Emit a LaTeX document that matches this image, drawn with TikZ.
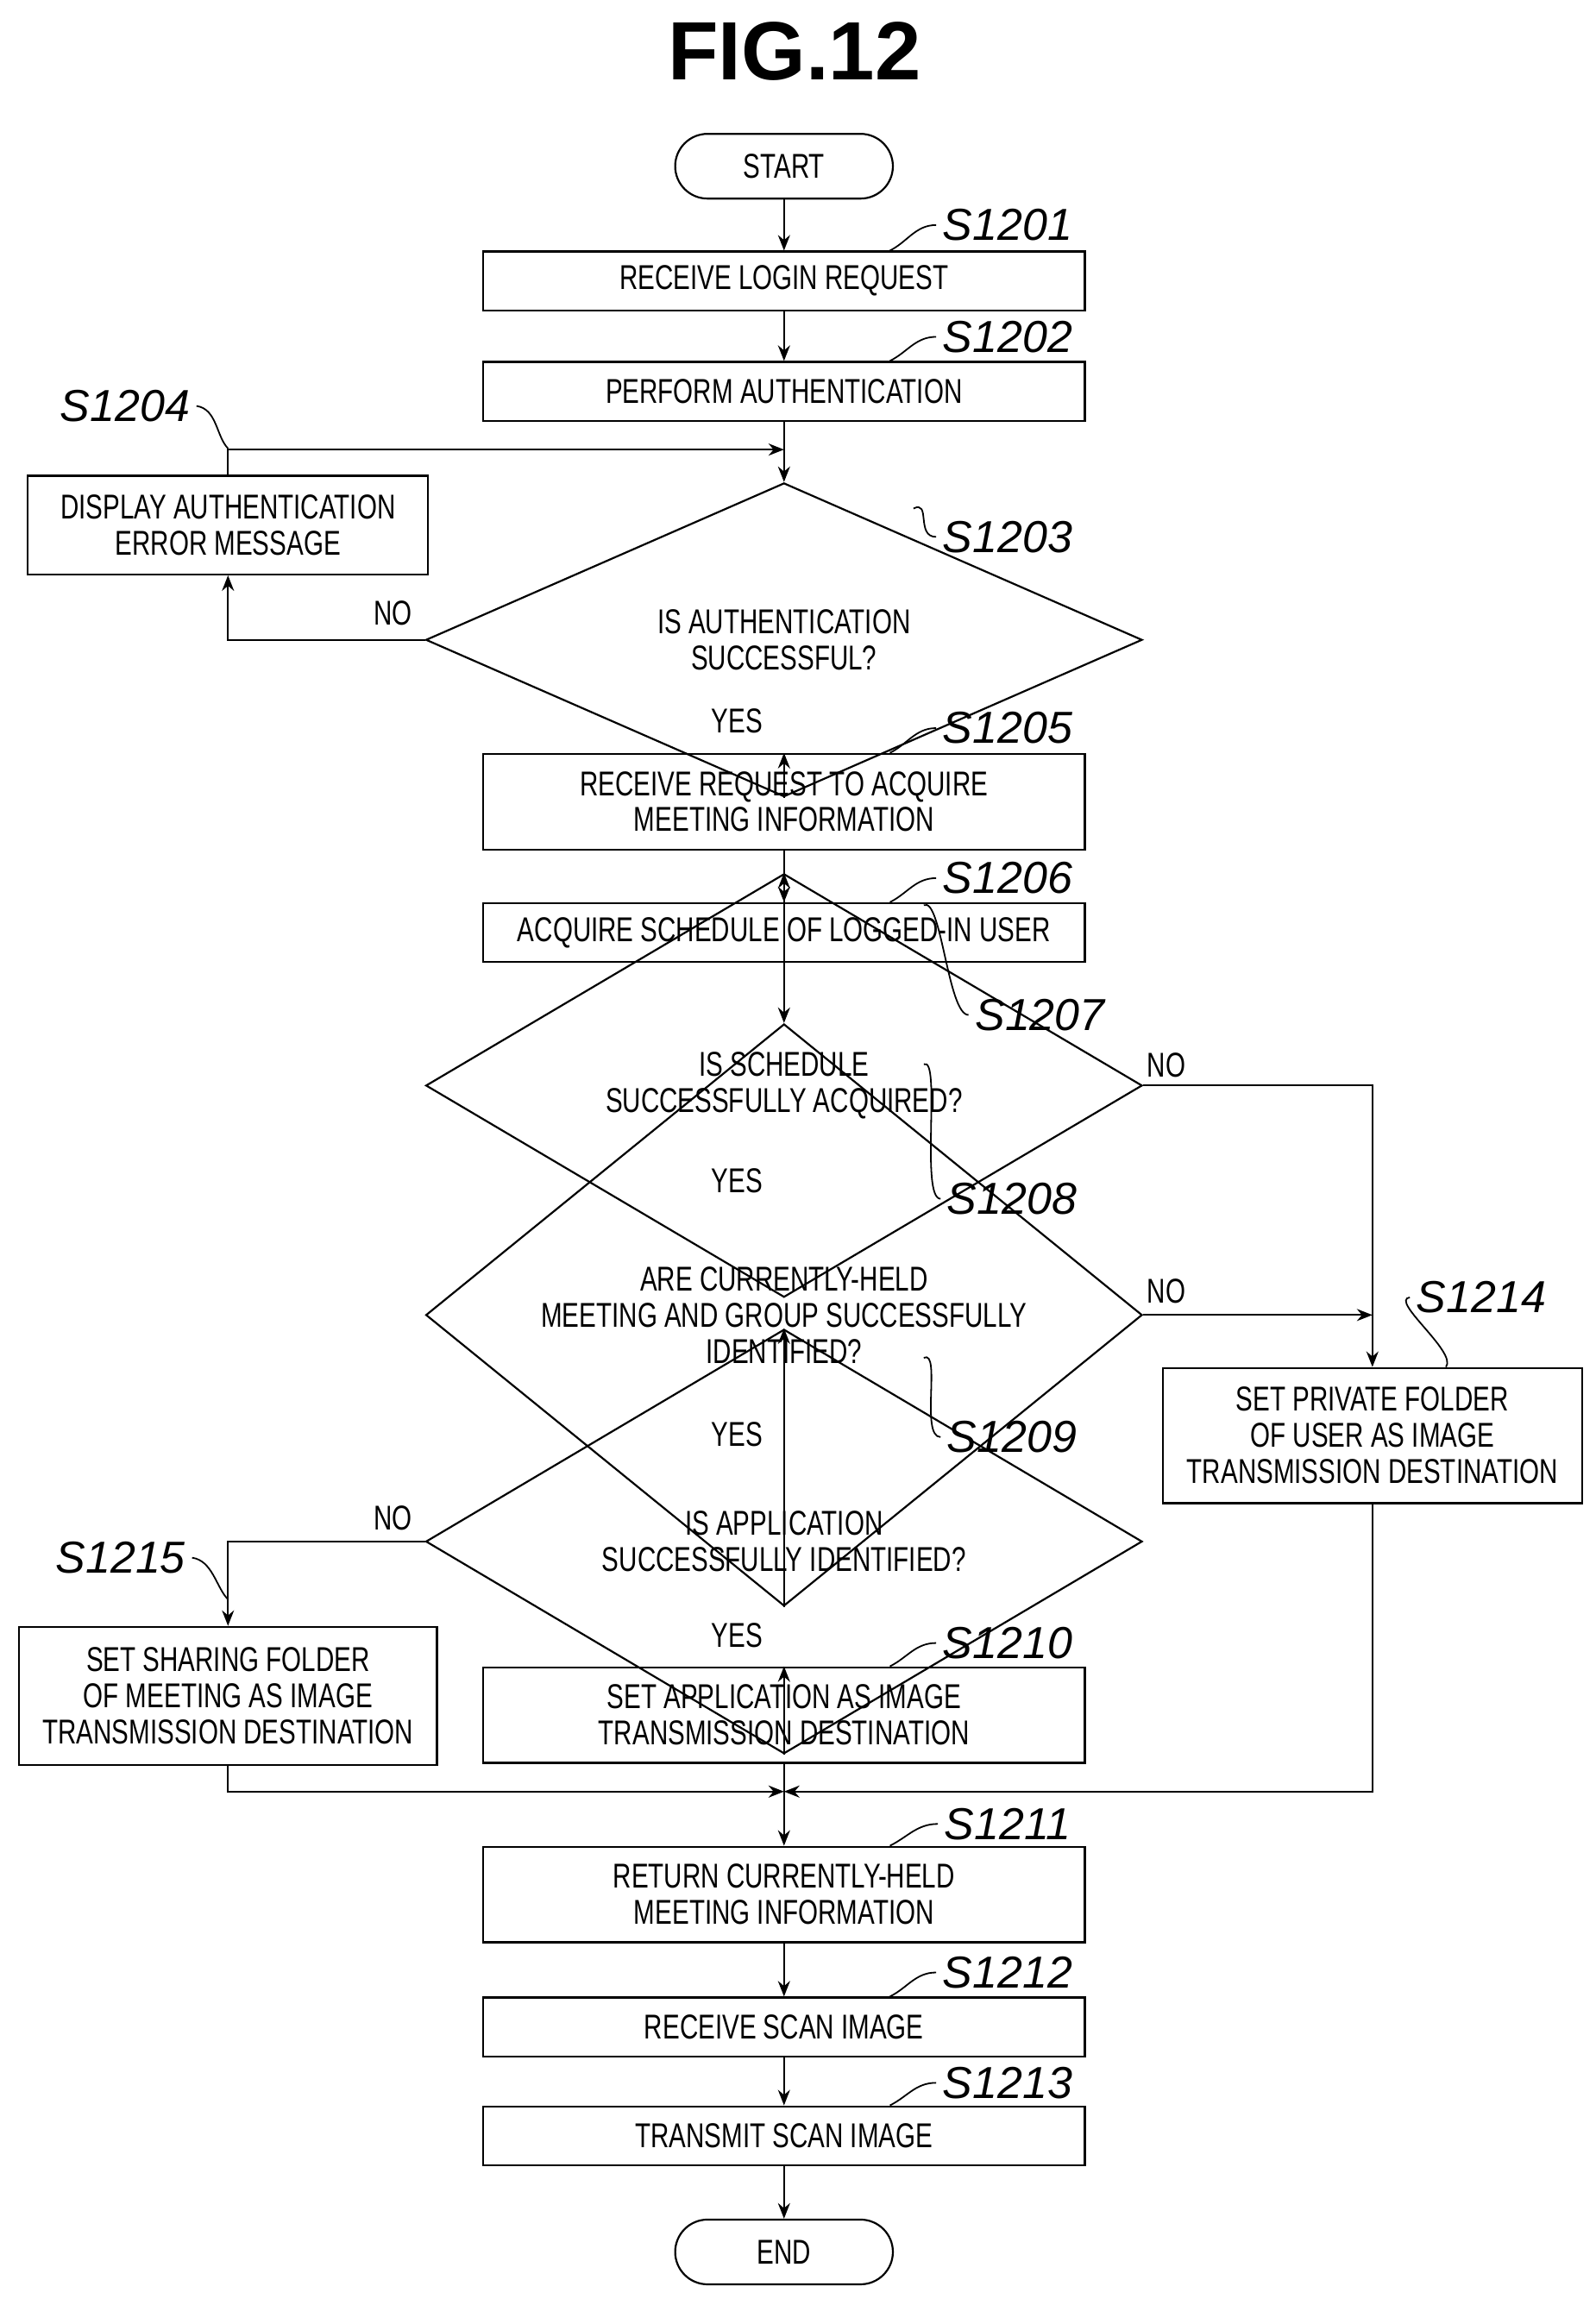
\documentclass[tikz,border=0pt]{standalone}
\usepackage{fontspec}
\setmainfont{Liberation Sans}
\newfontfamily\boxfont[FakeStretch=0.74]{Liberation Sans}
\usetikzlibrary{shapes.geometric,arrows.meta,calc}
\begin{document}
\begin{tikzpicture}[x=0.03cm,y=-0.03cm,
  line width=1.1pt,
  box/.style={draw,align=center,inner sep=0pt,font=\boxfont\fontsize{20}{21}\selectfont},
  stepbox/.style={box,minimum width=12.27cm,minimum height=1.2cm},
  tallbox/.style={box,minimum width=12.27cm,minimum height=1.95cm},
  term/.style={box,rounded corners=0.66cm,minimum width=4.44cm,minimum height=1.32cm},
  dec/.style={box,diamond,minimum width=14.61cm},
  lbl/.style={font=\itshape\fontsize{26}{26}\selectfont},
  yn/.style={font=\boxfont\fontsize{20}{21}\selectfont},
  lead/.style={line width=0.9pt},
  arr/.style={-{Stealth[length=9pt,width=7pt]}}]
\useasboundingbox (0,0) rectangle (1085,1563);
\node[font=\bfseries\fontsize{48}{48}\selectfont] (title) at (540,35) {FIG.12};
% main column
\node[term] (start) at (533,113) {START};
\node[stepbox] (b1201) at (533,191) {RECEIVE LOGIN REQUEST};
\node[stepbox] (b1202) at (533,266) {PERFORM AUTHENTICATION};
\node[box,minimum width=8.16cm,minimum height=2.01cm] (b1204) at (155,357) {DISPLAY AUTHENTICATION\\ERROR MESSAGE};
\node[dec,minimum height=2.7cm] (d1203) at (533,435) {IS AUTHENTICATION\\SUCCESSFUL?};
\node[tallbox] (b1205) at (533,545) {RECEIVE REQUEST TO ACQUIRE\\MEETING INFORMATION};
\node[stepbox] (b1206) at (533,634) {ACQUIRE SCHEDULE OF LOGGED-IN USER};
\node[dec,minimum height=2.91cm] (d1207) at (533,738) {IS SCHEDULE\\SUCCESSFULLY ACQUIRED?};
\node[dec,minimum height=4.08cm] (d1208) at (533,894) {ARE CURRENTLY-HELD\\MEETING AND GROUP SUCCESSFULLY\\IDENTIFIED?};
\node[box,minimum width=8.55cm,minimum height=2.76cm] (b1214) at (933,976) {SET PRIVATE FOLDER\\OF USER AS IMAGE\\TRANSMISSION DESTINATION};
\node[dec,minimum height=3.0cm] (d1209) at (533,1048) {IS APPLICATION\\SUCCESSFULLY IDENTIFIED?};
\node[box,minimum width=8.52cm,minimum height=2.82cm] (b1215) at (155,1153) {SET SHARING FOLDER\\OF MEETING AS IMAGE\\TRANSMISSION DESTINATION};
\node[tallbox] (b1210) at (533,1166) {SET APPLICATION AS IMAGE\\TRANSMISSION DESTINATION};
\coordinate (join) at (533,1218);
\node[tallbox] (b1211) at (533,1288) {RETURN CURRENTLY-HELD\\MEETING INFORMATION};
\node[stepbox] (b1212) at (533,1378) {RECEIVE SCAN IMAGE};
\node[stepbox] (b1213) at (533,1452) {TRANSMIT SCAN IMAGE};
\node[term] (end) at (533,1531) {END};
% step labels
\node[lbl] (l1201) at (685,153) {S1201};
\node[lbl] (l1202) at (685,229) {S1202};
\node[lbl] (l1204) at (85,276) {S1204};
\node[lbl] (l1203) at (685,365) {S1203};
\node[lbl] (l1205) at (685,495) {S1205};
\node[lbl] (l1206) at (685,597) {S1206};
\node[lbl] (l1207) at (707,690) {S1207};
\node[lbl] (l1208) at (688,815) {S1208};
\node[lbl] (l1214) at (1007,882) {S1214};
\node[lbl] (l1209) at (688,977) {S1209};
\node[lbl] (l1215) at (82,1059) {S1215};
\node[lbl] (l1210) at (685,1117) {S1210};
\node[lbl] (l1211) at (685,1240) {S1211};
\node[lbl] (l1212) at (685,1341) {S1212};
\node[lbl] (l1213) at (685,1416) {S1213};
% leaders
\foreach \s in {1201,1202,1205,1206,1210,1211,1212,1213}
  \draw[lead] (l\s.west) .. controls +(-14,0) and +(12,-6) .. ($(b\s.north)+(72,0)$);
\draw[lead] (l1203.west) .. controls +(-14,0) and +(12,-6) .. ($(d1203.north)+(88,18)$);
\draw[lead] (l1207.west) .. controls +(-14,0) and +(12,-6) .. ($(d1207.north)+(95,22)$);
\draw[lead] (l1208.west) .. controls +(-14,0) and +(12,-6) .. ($(d1208.north)+(95,28)$);
\draw[lead] (l1209.west) .. controls +(-14,0) and +(12,-6) .. ($(d1209.north)+(95,20)$);
\draw[lead] (l1204.east) .. controls +(14,2) and +(-8,-8) .. ($(b1204.north)+(0,-18)$);
\draw[lead] (l1215.east) .. controls +(14,2) and +(-8,-8) .. ($(b1215.north)+(0,-18)$);
\draw[lead] (l1214.west) .. controls +(-14,2) and +(8,-10) .. ($(b1214.north)+(50,0)$);
% connectors
\draw[arr] (start) -- (b1201);
\draw[arr] (b1201) -- (b1202);
\draw[arr] (b1202) -- (d1203);
\draw[arr] (d1203.west) -| (b1204.south);
\draw[arr] (b1204.north) |- ($(b1202.south)+(0,19)$);
\draw[arr] (d1203) -- (b1205);
\draw[arr] (b1205) -- (b1206);
\draw[arr] (b1206) -- (d1207);
\draw[arr] (d1207) -- (d1208);
\draw[arr] (d1207.east) -| (b1214.north);
\draw[arr] (d1208.east) -- (d1208.east -| b1214.north);
\draw[arr] (d1208) -- (d1209);
\draw[arr] (d1209.west) -| (b1215.north);
\draw[arr] (d1209) -- (b1210);
\draw (b1210) -- (join);
\draw[arr] (b1215.south) |- (join);
\draw[arr] (b1214.south) |- (join);
\draw[arr] (join) -- (b1211);
\draw[arr] (b1211) -- (b1212);
\draw[arr] (b1212) -- (b1213);
\draw[arr] (b1213) -- (end);
% branch labels
\node[yn] (n1203) at (267,417) {NO};
\node[yn] (y1203) at (501,490) {YES};
\node[yn] (n1207) at (793,724) {NO};
\node[yn] (y1207) at (501,803) {YES};
\node[yn] (n1208) at (793,878) {NO};
\node[yn] (y1208) at (501,975) {YES};
\node[yn] (n1209) at (267,1032) {NO};
\node[yn] (y1209) at (501,1112) {YES};
\end{tikzpicture}
\end{document}
